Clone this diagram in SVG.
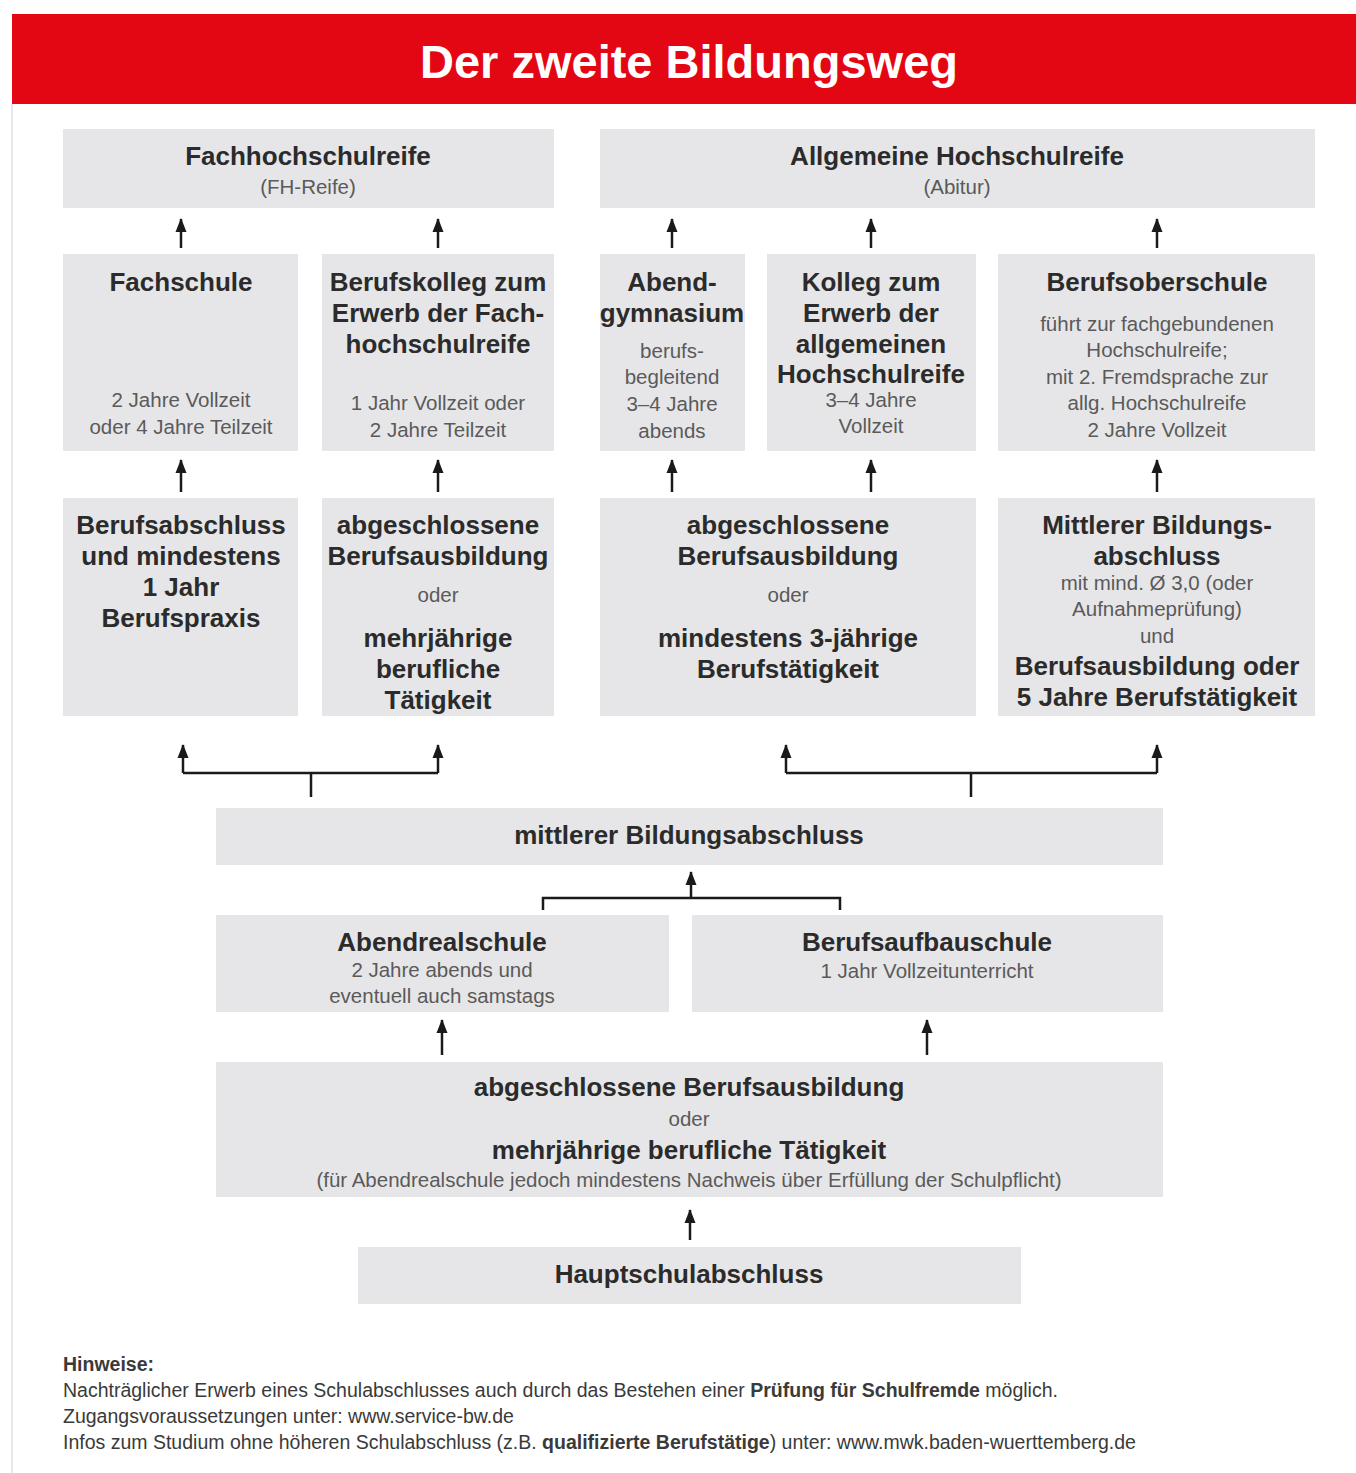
<svg xmlns="http://www.w3.org/2000/svg" width="1356" height="1473" viewBox="0 0 1356 1473">
<defs>
<marker id="ah" markerUnits="userSpaceOnUse" markerWidth="14" markerHeight="12" viewBox="0 0 14 12" refX="13" refY="6" orient="auto">
<path d="M14 6 L0 0.5 L0 11.5 Z" fill="#1a1a1a"/>
</marker>
<style>
.box{fill:#e6e6e8}
.t{font-family:"Liberation Sans",Arial,sans-serif;font-weight:bold;font-size:26px;fill:#2b2b2b;text-anchor:middle}
.s{font-family:"Liberation Sans",Arial,sans-serif;font-size:20.5px;fill:#5a5a5a;text-anchor:middle}
.c{stroke:#1a1a1a;stroke-width:2.5;fill:none}
.a{stroke:#1a1a1a;stroke-width:2.5;fill:none;marker-end:url(#ah)}
.n{font-family:"Liberation Sans",Arial,sans-serif;font-size:19.5px;fill:#3a3a3a}
</style>
</defs>
<rect x="0" y="0" width="1356" height="1473" fill="#ffffff"/>
<line x1="12" y1="104" x2="12" y2="1473" stroke="#e2e2e2" stroke-width="1.5"/>
<g id="title">
<rect x="12" y="14" width="1344" height="90" fill="#e30613"/>
<text x="689" y="78" font-family="'Liberation Sans',Arial,sans-serif" font-weight="bold" font-size="47" fill="#ffffff" text-anchor="middle">Der zweite Bildungsweg</text>
</g>
<g id="fhreife">
<rect class="box" x="63" y="129" width="491" height="79"/>
<text class="t" x="308" y="165">Fachhochschulreife</text>
<text class="s" x="308" y="194" font-size="18">(FH-Reife)</text>
</g>
<g id="abitur">
<rect class="box" x="600" y="129" width="715" height="79"/>
<text class="t" x="957" y="165">Allgemeine Hochschulreife</text>
<text class="s" x="957" y="194" font-size="18">(Abitur)</text>
</g>
<g id="fachschule">
<rect class="box" x="63" y="254" width="235" height="197"/>
<text class="t" x="181" y="291">Fachschule</text>
<text class="s" x="181" y="407">2 Jahre Vollzeit</text>
<text class="s" x="181" y="434">oder 4 Jahre Teilzeit</text>
</g>
<g id="berufskolleg">
<rect class="box" x="322" y="254" width="232" height="197"/>
<text class="t" x="438" y="291">Berufskolleg zum</text>
<text class="t" x="438" y="322">Erwerb der Fach-</text>
<text class="t" x="438" y="353">hochschulreife</text>
<text class="s" x="438" y="410">1 Jahr Vollzeit oder</text>
<text class="s" x="438" y="437">2 Jahre Teilzeit</text>
</g>
<g id="abendgymnasium">
<rect class="box" x="600" y="254" width="145" height="197"/>
<text class="t" x="672" y="291">Abend-</text>
<text class="t" x="672" y="322">gymnasium</text>
<text class="s" x="672" y="358">berufs-</text>
<text class="s" x="672" y="384">begleitend</text>
<text class="s" x="672" y="411">3–4 Jahre</text>
<text class="s" x="672" y="438">abends</text>
</g>
<g id="kolleg">
<rect class="box" x="767" y="254" width="209" height="197"/>
<text class="t" x="871" y="291">Kolleg zum</text>
<text class="t" x="871" y="322">Erwerb der</text>
<text class="t" x="871" y="353">allgemeinen</text>
<text class="t" x="871" y="383">Hochschulreife</text>
<text class="s" x="871" y="407">3–4 Jahre</text>
<text class="s" x="871" y="433">Vollzeit</text>
</g>
<g id="berufsoberschule">
<rect class="box" x="998" y="254" width="317" height="197"/>
<text class="t" x="1157" y="291">Berufsoberschule</text>
<text class="s" x="1157" y="331">führt zur fachgebundenen</text>
<text class="s" x="1157" y="357">Hochschulreife;</text>
<text class="s" x="1157" y="384">mit 2. Fremdsprache zur</text>
<text class="s" x="1157" y="410">allg. Hochschulreife</text>
<text class="s" x="1157" y="437">2 Jahre Vollzeit</text>
</g>
<g id="berufsabschluss">
<rect class="box" x="63" y="498" width="235" height="218"/>
<text class="t" x="181" y="534">Berufsabschluss</text>
<text class="t" x="181" y="565">und mindestens</text>
<text class="t" x="181" y="596">1 Jahr</text>
<text class="t" x="181" y="627">Berufspraxis</text>
</g>
<g id="ausbildung1">
<rect class="box" x="322" y="498" width="232" height="218"/>
<text class="t" x="438" y="534">abgeschlossene</text>
<text class="t" x="438" y="565">Berufsausbildung</text>
<text class="s" x="438" y="602">oder</text>
<text class="t" x="438" y="647">mehrjährige</text>
<text class="t" x="438" y="678">berufliche</text>
<text class="t" x="438" y="709">Tätigkeit</text>
</g>
<g id="ausbildung2">
<rect class="box" x="600" y="498" width="376" height="218"/>
<text class="t" x="788" y="534">abgeschlossene</text>
<text class="t" x="788" y="565">Berufsausbildung</text>
<text class="s" x="788" y="602">oder</text>
<text class="t" x="788" y="647">mindestens 3-jährige</text>
<text class="t" x="788" y="678">Berufstätigkeit</text>
</g>
<g id="mittlerer1">
<rect class="box" x="998" y="498" width="317" height="218"/>
<text class="t" x="1157" y="534">Mittlerer Bildungs-</text>
<text class="t" x="1157" y="565">abschluss</text>
<text class="s" x="1157" y="590">mit mind. Ø 3,0 (oder</text>
<text class="s" x="1157" y="616">Aufnahmeprüfung)</text>
<text class="s" x="1157" y="643">und</text>
<text class="t" x="1157" y="675">Berufsausbildung oder</text>
<text class="t" x="1157" y="706">5 Jahre Berufstätigkeit</text>
</g>
<g id="mittlerer2">
<rect class="box" x="216" y="808" width="947" height="57"/>
<text class="t" x="689" y="844">mittlerer Bildungsabschluss</text>
</g>
<g id="abendrealschule">
<rect class="box" x="216" y="915" width="453" height="97"/>
<text class="t" x="442" y="951">Abendrealschule</text>
<text class="s" x="442" y="977">2 Jahre abends und</text>
<text class="s" x="442" y="1003">eventuell auch samstags</text>
</g>
<g id="berufsaufbauschule">
<rect class="box" x="692" y="915" width="471" height="97"/>
<text class="t" x="927" y="951">Berufsaufbauschule</text>
<text class="s" x="927" y="978">1 Jahr Vollzeitunterricht</text>
</g>
<g id="ausbildung3">
<rect class="box" x="216" y="1062" width="947" height="135"/>
<text class="t" x="689" y="1096">abgeschlossene Berufsausbildung</text>
<text class="s" x="689" y="1126">oder</text>
<text class="t" x="689" y="1159">mehrjährige berufliche Tätigkeit</text>
<text class="s" x="689" y="1187">(für Abendrealschule jedoch mindestens Nachweis über Erfüllung der Schulpflicht)</text>
</g>
<g id="hauptschulabschluss">
<rect class="box" x="358" y="1247" width="663" height="57"/>
<text class="t" x="689" y="1283">Hauptschulabschluss</text>
</g>
<g id="connectors">
<path class="a" d="M181 248 V219"/>
<path class="a" d="M438 248 V219"/>
<path class="a" d="M672 248 V219"/>
<path class="a" d="M871 248 V219"/>
<path class="a" d="M1157 248 V219"/>
<path class="a" d="M181 492 V460"/>
<path class="a" d="M438 492 V460"/>
<path class="a" d="M672 492 V460"/>
<path class="a" d="M871 492 V460"/>
<path class="a" d="M1157 492 V460"/>
<path class="a" d="M183 773 V745"/>
<path class="a" d="M438 773 V745"/>
<path class="c" d="M183 773 H438 M311 773 V797"/>
<path class="a" d="M786 773 V745"/>
<path class="a" d="M1157 773 V745"/>
<path class="c" d="M786 773 H1157 M971 773 V797"/>
<path class="a" d="M691 898 V872"/>
<path class="c" d="M543 910 V898 H840 V910"/>
<path class="a" d="M442 1055 V1020"/>
<path class="a" d="M927 1055 V1020"/>
<path class="a" d="M690 1240 V1210"/>
</g>
<g id="notes">
<text class="n" x="63" y="1371" font-weight="bold" font-size="17">Hinweise:</text>
<text class="n" x="63" y="1397">Nachträglicher Erwerb eines Schulabschlusses auch durch das Bestehen einer <tspan font-weight="bold">Prüfung für Schulfremde</tspan> möglich.</text>
<text class="n" x="63" y="1423">Zugangsvoraussetzungen unter: www.service-bw.de</text>
<text class="n" x="63" y="1449">Infos zum Studium ohne höheren Schulabschluss (z.B. <tspan font-weight="bold">qualifizierte Berufstätige</tspan>) unter: www.mwk.baden-wuerttemberg.de</text>
</g>
</svg>
